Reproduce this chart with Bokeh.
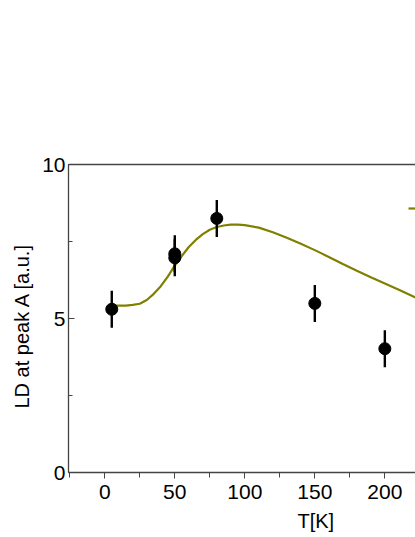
from bokeh.plotting import figure
from bokeh.models import (LinearAxis, SingleIntervalTicker, FixedTicker, Range1d,
                          ColumnDataSource, Title, Legend, LegendItem)
from bokeh.core.properties import value
from bokeh.embed import file_html
from bokeh.resources import INLINE

# measured points
temps = [5, 50, 50, 80, 150, 200]
ld = [5.30, 7.10, 6.97, 8.25, 5.49, 4.02]
ld_err = [0.60, 0.60, 0.60, 0.60, 0.60, 0.60]

fit_t = [4, 10, 15, 20, 25, 30, 35, 40, 45, 50, 55, 60, 65, 70, 75, 80, 85, 90,
         95, 100, 110, 120, 130, 140, 150, 160, 170, 180, 190, 200, 210, 220, 230]
fit_ld = [5.42, 5.42, 5.42, 5.44, 5.48, 5.60, 5.80, 6.05, 6.36, 6.72, 7.03, 7.32,
          7.55, 7.74, 7.88, 7.97, 8.02, 8.05, 8.05, 8.03, 7.95, 7.80, 7.62, 7.43,
          7.22, 7.00, 6.77, 6.55, 6.34, 6.14, 5.93, 5.72, 5.52]

x_label = "T[K]"
y_label = "LD at peak A [a.u.]"

FONT = "Liberation Sans"
AXIS_COLOR = "#444444"
OLIVE = "#808000"

p = figure(width=415, height=537, output_backend="svg", toolbar_location=None,
           x_range=Range1d(-25.9, 221.9), y_range=Range1d(0, 10),
           min_border_left=68, min_border_right=0, min_border_top=164,
           min_border_bottom=65, x_axis_location="below")
p.outline_line_color = None
p.grid.visible = False

# fit line
fit_r = p.line(fit_t, fit_ld, line_color=OLIVE, line_width=2.2)

# error bars + points
src = ColumnDataSource(dict(
    t=temps, y=ld,
    lo=[v - e for v, e in zip(ld, ld_err)],
    hi=[v + e for v, e in zip(ld, ld_err)]))
p.segment(x0="t", y0="lo", x1="t", y1="hi", source=src, line_color="black", line_width=2.4)
p.scatter(x="t", y="y", source=src, size=12, fill_color="black", line_color="black")

# legend sample of the fit line (the rest of the legend lies beyond the cropped edge)
legend = Legend(items=[LegendItem(label=value(""), renderers=[fit_r])],
                location=(340, 254), border_line_color=None, background_fill_alpha=0,
                padding=0, margin=0, glyph_width=20, glyph_height=20, spacing=0)
p.add_layout(legend)

# bottom axis
xa = p.xaxis[0]
xa.ticker = SingleIntervalTicker(interval=50, num_minor_ticks=2)
xa.major_tick_in = 0
xa.major_tick_out = 6
xa.minor_tick_in = 0
xa.minor_tick_out = 5
xa.major_label_standoff = 6
xa.major_label_text_font = FONT
xa.major_label_text_font_size = "21px"
xa.major_label_text_color = "black"
xa.axis_line_color = AXIS_COLOR
xa.axis_line_width = 1.3
xa.major_tick_line_color = AXIS_COLOR
xa.minor_tick_line_color = AXIS_COLOR

# x axis title, off-centre as in the original (its frame continues to the right)
p.add_layout(Title(text=x_label, align="left", offset=229, standoff=12,
                   text_font=FONT, text_font_size="20px", text_font_style="normal",
                   text_color="black"), "below")

# left axis
ya = p.yaxis[0]
ya.ticker = SingleIntervalTicker(interval=5, num_minor_ticks=2)
ya.major_tick_in = 6
ya.major_tick_out = 0
ya.minor_tick_in = 4
ya.minor_tick_out = 0
ya.major_label_standoff = 3
ya.major_label_text_font = FONT
ya.major_label_text_font_size = "21px"
ya.major_label_text_color = "black"
ya.axis_line_color = AXIS_COLOR
ya.axis_line_width = 1.3
ya.major_tick_line_color = AXIS_COLOR
ya.minor_tick_line_color = AXIS_COLOR

# y axis title, placed as in the original
p.add_layout(Title(text=y_label, align="left", offset=64, standoff=14,
                   text_font=FONT, text_font_size="20px", text_font_style="normal",
                   text_color="black"), "left")

# top frame line
top = LinearAxis(ticker=FixedTicker(ticks=[]), axis_line_color=AXIS_COLOR,
                 axis_line_width=1.3)
p.add_layout(top, "above")

open("out.html", "w").write(file_html(p, INLINE))
